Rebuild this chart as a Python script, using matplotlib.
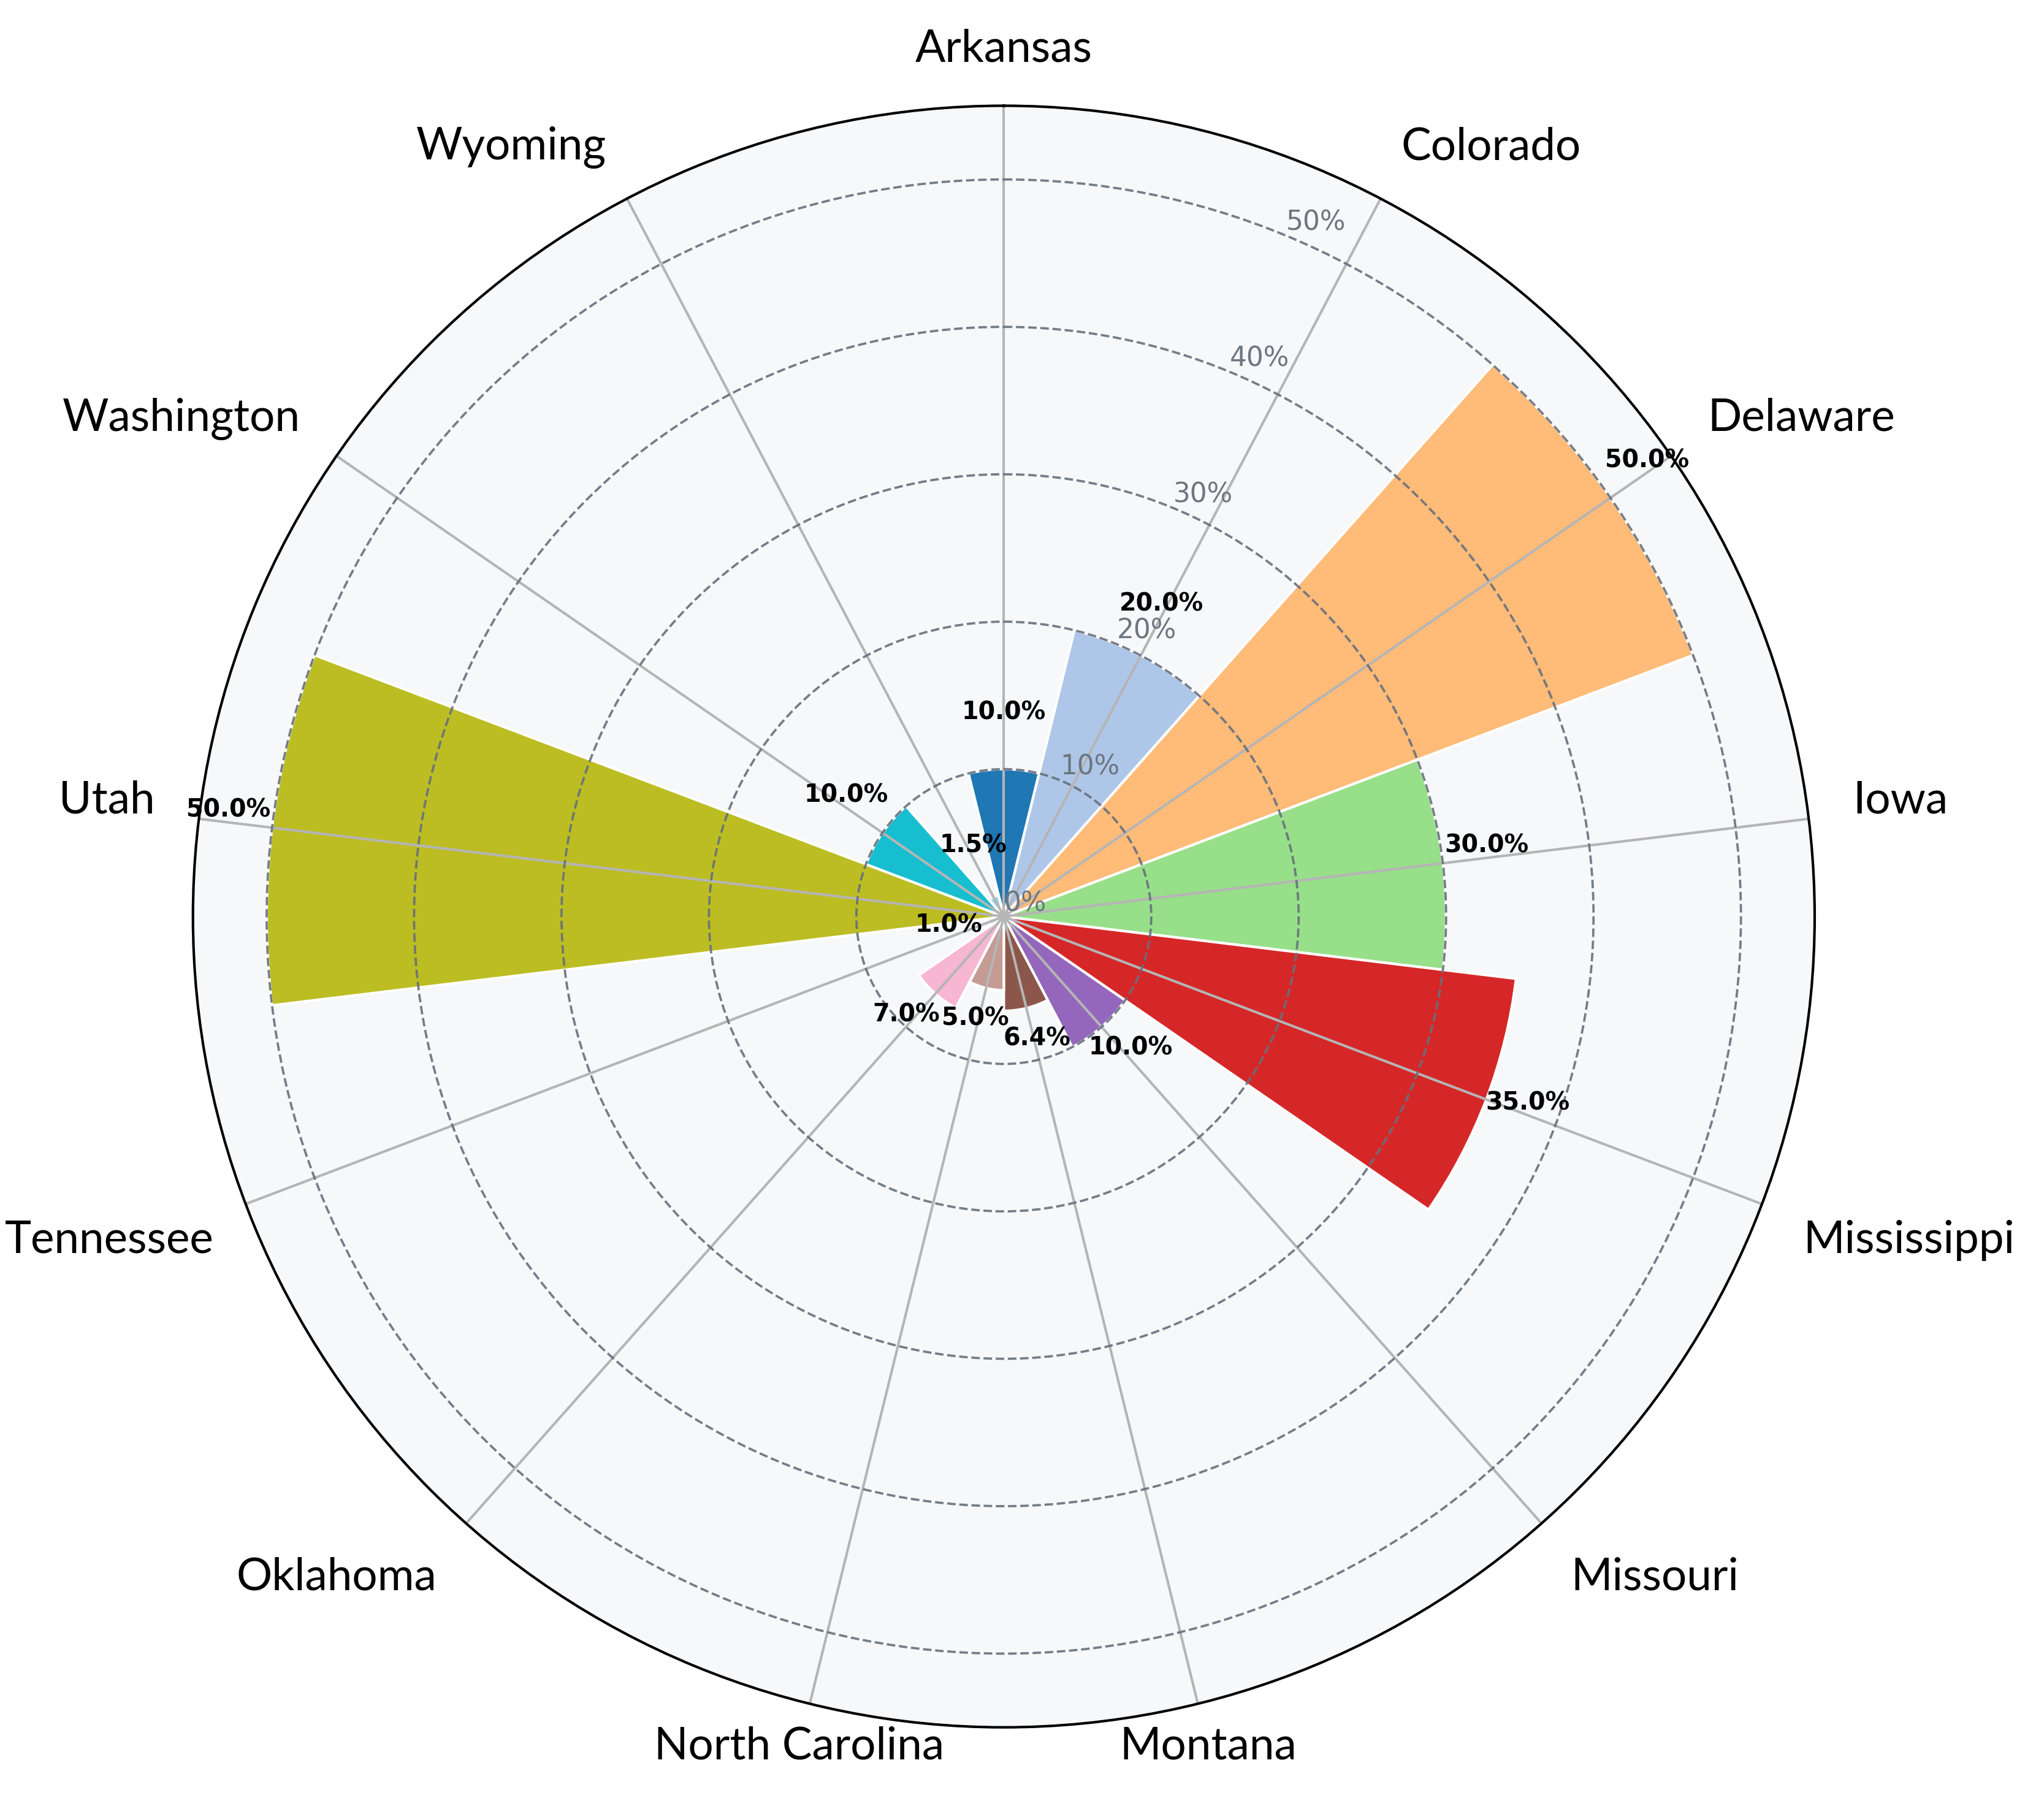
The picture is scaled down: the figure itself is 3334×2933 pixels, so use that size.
import numpy as np
import matplotlib.pyplot as plt
from matplotlib.transforms import offset_copy

states = ['Arkansas', 'Colorado', 'Delaware', 'Iowa', 'Mississippi', 'Missouri',
          'Montana', 'North Carolina', 'Oklahoma', 'Tennessee', 'Utah',
          'Washington', 'Wyoming']
shares = [10.0, 20.0, 50.0, 30.0, 35.0, 10.0, 6.4, 5.0, 7.0, 1.0, 50.0, 10.0, 1.5]
r_ticks = [0, 10, 20, 30, 40, 50]
r_tick_labels = ['0%', '10%', '20%', '30%', '40%', '50%']

n = len(states)
theta = np.linspace(0, 2 * np.pi, n, endpoint=False)
width = 2 * np.pi / n
colors = plt.cm.tab20(np.linspace(0, 1, n))

fig = plt.figure(figsize=(3334 / 300, 2933 / 300), dpi=300)
ax = fig.add_axes([0.0944, 0.0392, 0.7934, 0.9021], projection='polar')
ax.set_theta_offset(np.pi / 2)
ax.set_theta_direction(-1)
ax.set_facecolor('#f7f8fa')

ax.bar(theta, shares, width=width, color=colors, edgecolor='white', linewidth=1.0)

ax.set_ylim(0, 55)
ax.set_yticks(r_ticks)
ax.set_yticklabels(r_tick_labels, fontsize=10.5, color='#6c7680')
ax.set_xticks(theta)
ax.set_xticklabels([])
ax.tick_params(axis='x', length=0)

ax.xaxis.grid(True, color='#b5b5b5', linestyle='-', linewidth=1.0)
ax.yaxis.grid(True, color='#66707c', linestyle='--', linewidth=0.9, alpha=0.9)
ax.spines['polar'].set_color('black')
ax.spines['polar'].set_linewidth(1.0)

# value labels just outside each bar
for t, v in zip(theta, shares):
    ax.text(t, v + 3, f'{v:.1f}%', ha='center', va='bottom', fontsize=9.5,
            fontweight='bold', color='black', zorder=5)

# state names around the outside
name_texts = []
for t, name in zip(theta, states):
    s, c = np.sin(t), np.cos(t)
    ha = 'left' if s > 0.3 else ('right' if s < -0.3 else 'center')
    if c > 0:
        va = 'baseline'
    elif c > -0.9:
        va = 'top'
    else:
        va = 'center'
    txt = ax.text(t, 58, name, ha=ha, va=va, fontsize=17.5, family='Lato',
                  color='black', clip_on=False)
    name_texts.append(txt)

# keep names inside the figure
fig.canvas.draw()
renderer = fig.canvas.get_renderer()
fig_w = fig.bbox.width
for txt in name_texts:
    bb = txt.get_window_extent(renderer)
    shift = 0
    if bb.x0 < 8:
        shift = 8 - bb.x0
    elif bb.x1 > fig_w - 8:
        shift = fig_w - 8 - bb.x1
    if shift:
        txt.set_transform(offset_copy(txt.get_transform(), fig=fig,
                                      x=shift, units='dots'))

fig.savefig('out.png', dpi=300)
